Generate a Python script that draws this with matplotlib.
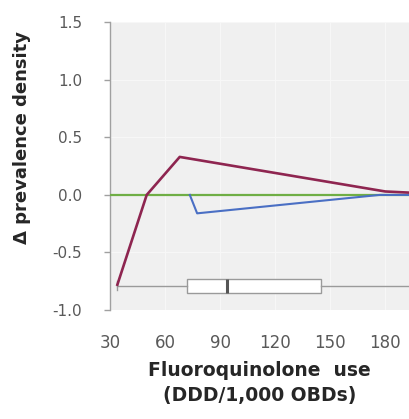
import numpy as np
import matplotlib
matplotlib.use("Agg")
from matplotlib import pyplot as plt

# curves
red_x = [34, 50, 68, 180, 193]
red_y = [-0.78, 0.0, 0.33, 0.03, 0.02]
green_x = [30, 193]
green_y = [0.0, 0.0]
blue_x = [73.5, 77.5, 177, 193]
blue_y = [0.0, -0.16, 0.0, 0.0]

# distribution of use (box plot under the curves)
use_stats = {"whislo": 34, "q1": 72, "med": 94, "q3": 145, "whishi": 205}
box_pos = -0.79

xticks = [30, 60, 90, 120, 150, 180]
yticks = [-1.0, -0.5, 0.0, 0.5, 1.0, 1.5]

plt.rcParams['font.family'] = ['DejaVu Sans']
fig = plt.figure(figsize=(4.09, 4.19), dpi=100)
ax = fig.add_axes([0.269, 0.26, 0.731, 0.687])
ax.set_facecolor('#f0f0f0')

ax.plot(green_x, green_y, color='#6fae45', lw=1.6, zorder=3)
ax.plot(blue_x, blue_y, color='#4a6fc4', lw=1.5, zorder=3)
ax.plot(red_x, red_y, color='#8e2550', lw=1.9, zorder=4)

ax.bxp([dict(use_stats, label='')], positions=[box_pos], widths=0.115,
       orientation='horizontal', showfliers=False, patch_artist=True,
       boxprops=dict(facecolor='white', edgecolor='#9a9a9a', lw=1.0),
       whiskerprops=dict(color='#9a9a9a', lw=1.0),
       capprops=dict(color='#9a9a9a', lw=1.0), capwidths=0.08,
       medianprops=dict(color='#555555', lw=2.2), manage_ticks=False,
       zorder=2)

ax.set_xlim(30, 193)
ax.set_ylim(-1.0, 1.5)
ax.set_xticks(xticks)
ax.set_yticks(yticks)
ax.set_xticklabels([str(v) for v in xticks])
ax.set_yticklabels(['%.1f' % v for v in yticks])

ax.grid(True, color='#f8f8f8', lw=0.7)
ax.set_axisbelow(True)
for s in ['top', 'right', 'bottom']:
    ax.spines[s].set_visible(False)
ax.spines['left'].set_color('#a0a0a0')
ax.spines['left'].set_linewidth(1.0)

ax.tick_params(axis='y', length=4, width=1.0, color='#a0a0a0', pad=16,
               labelsize=11, labelcolor='#595959')
ax.tick_params(axis='x', length=0, pad=17, labelsize=12, labelcolor='#595959')

ax.set_xlabel("Fluoroquinolone  use\n(DDD/1,000 OBDs)", fontsize=13.5,
              fontweight='bold', color='#262626', linespacing=1.35, labelpad=7)
ax.set_ylabel("\u0394 prevalence density", fontsize=13, fontweight='bold',
              color='#262626')
ax.yaxis.set_label_coords(-0.265, 0.6)

fig.savefig("out.png", dpi=100)
